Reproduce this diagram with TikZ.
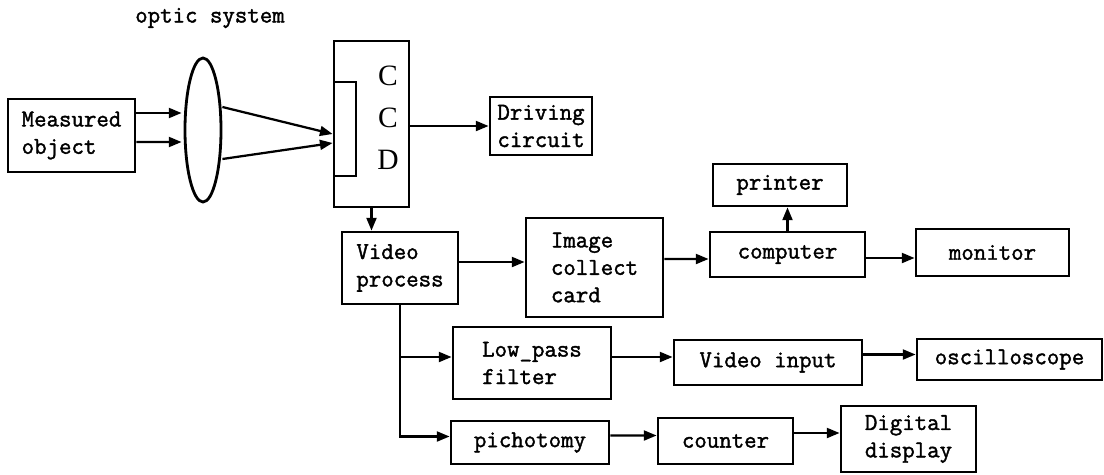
\documentclass[tikz,border=0pt]{standalone}
\usepackage{fontspec}
\usetikzlibrary{calc,arrows.meta,shapes.geometric}
\newfontfamily\ccdfont{Liberation Serif}
\newfontfamily\boxfont[FakeBold=1.6]{Latin Modern Mono}
\newcommand{\boxtext}{\boxfont\fontsize{17.2}{19.5}\selectfont}
\tikzset{blk/.style 2 args={draw,line width=2pt,minimum width=#1*0.025cm,minimum height=#2*0.025cm,align=left,inner sep=2pt,font=\boxtext},
  arr/.style={-{Triangle[length=9pt,width=7pt]},line width=1.6pt}}

\begin{document}
\begin{tikzpicture}[x=0.025cm,y=-0.025cm]
\useasboundingbox (0,0) rectangle (1104,474);
\node[font=\boxtext] (optic) at (210,18) {optic system};
\node[blk={127}{73}] (meas) at (71.5,135.5) {Measured\\object};
\node[draw,ellipse,line width=2pt,minimum width=36*0.025cm,minimum height=144*0.025cm,inner sep=0pt] (lens) at (203,130) {};
\node[blk={75}{166}] (ccd) at (371.5,124) {};
\draw[line width=2pt] (334,82) rectangle (356,176);
\node[font=\ccdfont\fontsize{21}{30}\selectfont,align=center] (ccdtxt) at (388,118) {C\\C\\D};
\node[blk={102}{58}] (drive) at (541,126) {Driving\\circuit};
\node[blk={116}{72}] (video) at (400,268) {Video\\process};
\node[blk={137}{99}] (image) at (594.5,267.5) {Image\\collect\\card};
\node[blk={155}{45}] (comp) at (787.5,254.5) {computer};
\node[blk={134}{42}] (print) at (780,185) {printer};
\node[blk={153}{47}] (moni) at (992.5,252.5) {monitor};
\node[blk={158}{72}] (lowp) at (532,363) {Low\_pass\\filter};
\node[blk={188}{45}] (vin) at (768,362.5) {Video input};
\node[blk={185}{41}] (osc) at (1009.5,359.5) {oscilloscope};
\node[blk={158}{43}] (pich) at (530,442.5) {pichotomy};
\node[blk={135}{46}] (count) at (725.5,441) {counter};
\node[blk={135}{66}] (digi) at (908.5,439) {Digital\\display};

\draw[arr] ($(meas.east)+(0,-22.5)$) -- ($(lens.west)+(-2,-17)$);
\draw[arr] ($(meas.east)+(0,6.5)$) -- ($(lens.west)+(-2,12)$);
\draw[arr] ($(lens.east)+(0,-23)$) -- ($(ccd.west)+(0,10)$);
\draw[arr] ($(lens.east)+(0,29)$) -- ($(ccd.west)+(0,19)$);
\draw[arr] (ccd.east |- drive.west) -- (drive.west);
\draw[arr] (ccd.south) -- (ccd.south |- video.north);
\draw[arr] ($(video.east)+(0,-6)$) -- ($(image.west)+(0,-5.5)$);
\draw[arr] ($(image.east)+(0,-8.5)$) -- ($(comp.west)+(0,4.5)$);
\draw[arr] (comp.north) -- (comp.north |- print.south);
\draw[arr] ($(comp.east)+(0,3.5)$) -- ($(moni.west)+(0,5.5)$);
\draw[arr] (video.south) |- ($(pich.west)+(0,-6)$);
\draw[arr] ($(video.south |- lowp.west)+(0,-6)$) -- ($(lowp.west)+(0,-6)$);
\draw[arr] ($(lowp.east)+(0,-6)$) -- ($(vin.west)+(0,-5.5)$);
\draw[arr] ($(vin.east)+(0,-8)$) -- ($(osc.west)+(0,-5)$);
\draw[arr] ($(pich.east)+(0,-7)$) -- ($(count.west)+(0,-5.5)$);
\draw[arr] ($(count.east)+(0,-8)$) -- ($(digi.west)+(0,-6)$);
\end{tikzpicture}
\end{document}
